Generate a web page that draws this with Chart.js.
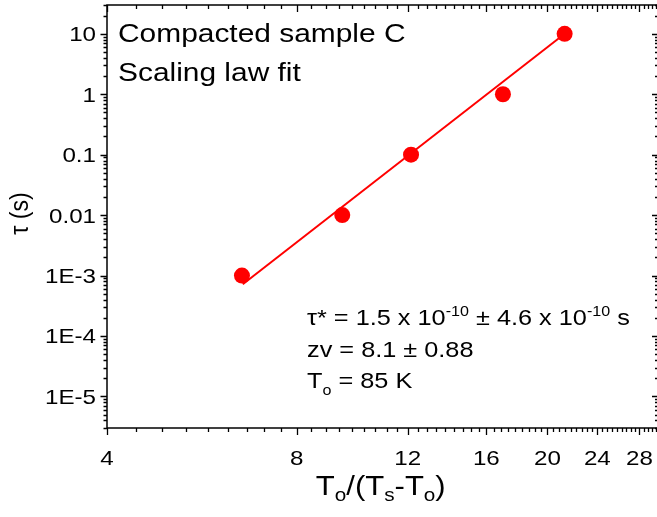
<!DOCTYPE html>
<html>
<head>
<meta charset="utf-8">
<script src="https://cdn.jsdelivr.net/npm/chart.js@4.4.1/dist/chart.umd.min.js"></script>
<style>
  html, body { margin: 0; padding: 0; background: #fff; overflow: hidden; }
  #tauChart { display: block; }
</style>
</head>
<body>
<canvas id="tauChart" width="657" height="517"></canvas>
<script>
// relaxation time vs reduced temperature, compacted sample C
const reducedT = [6.55, 9.45, 12.15, 17.0, 21.3];
const tau = [1e-3, 1e-2, 1e-1, 1, 10];

// scaling law fit line (end points)
const fitX = [6.57, 21.3];
const fitTau = [7.2e-4, 10];

// visible axis ranges (the right frame edge sits just past the canvas)
const xRange = [4, 29.85];
const yRange = [3e-6, 30];
const xTicks = [4, 8, 12, 16, 20, 24, 28];
const yTicks = [1e-5, 1e-4, 1e-3, 1e-2, 1e-1, 1, 10];
const yTickLabels = ["1E-5", "1E-4", "1E-3", "0.01", "0.1", "1", "10"];

const FONT = '"Liberation Sans", Arial, Helvetica, sans-serif';
const SX = 1.15; // text is drawn a bit wide

// minor ticks: 8 per major interval on x, 2..9 per decade on y
const xMinor = [];
for (let i = 0; i < xTicks.length; i++) {
  const a = xTicks[i];
  for (let k = 1; k < 9; k++) {
    const v = a + k * 4 / 9;
    if (v < xRange[1]) xMinor.push(v);
  }
}
const yMinor = [];
for (let d = -6; d <= 1; d++) {
  for (let k = 2; k <= 9; k++) {
    const v = k * Math.pow(10, d);
    if (v >= yRange[0] * 0.999 && v <= yRange[1] * 1.001) yMinor.push(v);
  }
}

function runWidth(ctx, runs) {
  let w = 0;
  runs.forEach(r => {
    ctx.font = r.size + "px " + FONT;
    w += ctx.measureText(r.t).width;
  });
  return w * SX;
}

function drawRuns(ctx, x, y, runs, align) {
  const w = runWidth(ctx, runs);
  const x0 = align === "center" ? x - w / 2 : align === "right" ? x - w : x;
  ctx.save();
  ctx.translate(x0, y);
  ctx.scale(SX, 1);
  let px = 0;
  runs.forEach(r => {
    ctx.font = r.size + "px " + FONT;
    ctx.fillText(r.t, px, r.dy || 0);
    px += ctx.measureText(r.t).width;
  });
  ctx.restore();
}

const framePlugin = {
  id: "frame",
  afterDraw(chart) {
    const ctx = chart.ctx;
    const a = chart.chartArea;
    const xs = chart.scales.x;
    const ys = chart.scales.y;
    const right = a.right + 1.5;
    ctx.save();
    ctx.strokeStyle = "#000";
    ctx.fillStyle = "#000";
    ctx.textBaseline = "alphabetic";

    // box
    ctx.lineWidth = 1.5;
    ctx.strokeRect(a.left, a.top, right - a.left, a.bottom - a.top);

    // ticks: outward on bottom/left, inward on top/right
    ctx.lineWidth = 1.3;
    ctx.beginPath();
    const xt = (v, len) => {
      const px = Math.round(xs.getPixelForValue(v)) + 0.5;
      ctx.moveTo(px, a.bottom); ctx.lineTo(px, a.bottom + len);
      ctx.moveTo(px, a.top); ctx.lineTo(px, a.top + len);
    };
    const yt = (v, len) => {
      const py = Math.round(ys.getPixelForValue(v)) + 0.5;
      ctx.moveTo(a.left, py); ctx.lineTo(a.left - len, py);
      ctx.moveTo(right, py); ctx.lineTo(right - len, py);
    };
    xMinor.forEach(v => xt(v, 4));
    xTicks.forEach(v => xt(v, 7));
    yMinor.forEach(v => yt(v, 3.5));
    yTicks.forEach(v => yt(v, 6.5));
    ctx.stroke();

    // tick labels
    xTicks.forEach(v => {
      drawRuns(ctx, xs.getPixelForValue(v), 465, [{ t: String(v), size: 21 }], "center");
    });
    yTicks.forEach((v, i) => {
      drawRuns(ctx, 96, ys.getPixelForValue(v) + 7.5, [{ t: yTickLabels[i], size: 21 }], "right");
    });

    // axis titles
    drawRuns(ctx, (a.left + right) / 2 - 2, 495, [
      { t: "T", size: 27 }, { t: "o", size: 18, dy: 6 },
      { t: "/(T", size: 27 }, { t: "s", size: 18, dy: 6 },
      { t: "-T", size: 27 }, { t: "o", size: 18, dy: 6 },
      { t: ")", size: 27 }
    ], "center");

    ctx.save();
    ctx.translate(28, (a.top + a.bottom) / 2 - 3);
    ctx.rotate(-Math.PI / 2);
    ctx.scale(1 / SX, SX);
    drawRuns(ctx, 0, 0, [{ t: "τ (s)", size: 23 }], "center");
    ctx.restore();

    // labels inside the plot
    drawRuns(ctx, 118, 42, [{ t: "Compacted sample C", size: 26 }], "left");
    drawRuns(ctx, 118, 81, [{ t: "Scaling law fit", size: 26 }], "left");

    drawRuns(ctx, 307, 325, [
      { t: "τ* = 1.5 x 10", size: 22 }, { t: "-10", size: 14, dy: -9 },
      { t: " ± 4.6 x 10", size: 22 }, { t: "-10", size: 14, dy: -9 },
      { t: " s", size: 22 }
    ], "left");
    drawRuns(ctx, 307, 357, [{ t: "zv = 8.1 ± 0.88", size: 22 }], "left");
    drawRuns(ctx, 307, 388, [
      { t: "T", size: 22 }, { t: "o", size: 14, dy: 7 }, { t: " = 85 K", size: 22 }
    ], "left");

    ctx.restore();
  }
};

const ctx = document.getElementById("tauChart").getContext("2d");
new Chart(ctx, {
  type: "scatter",
  data: {
    datasets: [
      {
        label: "data",
        data: reducedT.map((x, i) => ({ x: x, y: tau[i] })),
        backgroundColor: "#ff0000",
        borderWidth: 0,
        pointRadius: 8,
        pointHoverRadius: 8,
        showLine: false,
        order: 0
      },
      {
        label: "fit",
        data: fitX.map((x, i) => ({ x: x, y: fitTau[i] })),
        borderColor: "#ff0000",
        borderWidth: 2,
        pointRadius: 0,
        showLine: true,
        order: 1
      }
    ]
  },
  options: {
    responsive: false,
    animation: false,
    layout: { autoPadding: false, padding: { left: 107, top: 5, right: 0, bottom: 89 } },
    plugins: { legend: { display: false }, tooltip: { enabled: false } },
    scales: {
      x: { type: "logarithmic", min: xRange[0], max: xRange[1], display: false },
      y: { type: "logarithmic", min: yRange[0], max: yRange[1], display: false }
    }
  },
  plugins: [framePlugin]
});
</script>
</body>
</html>
